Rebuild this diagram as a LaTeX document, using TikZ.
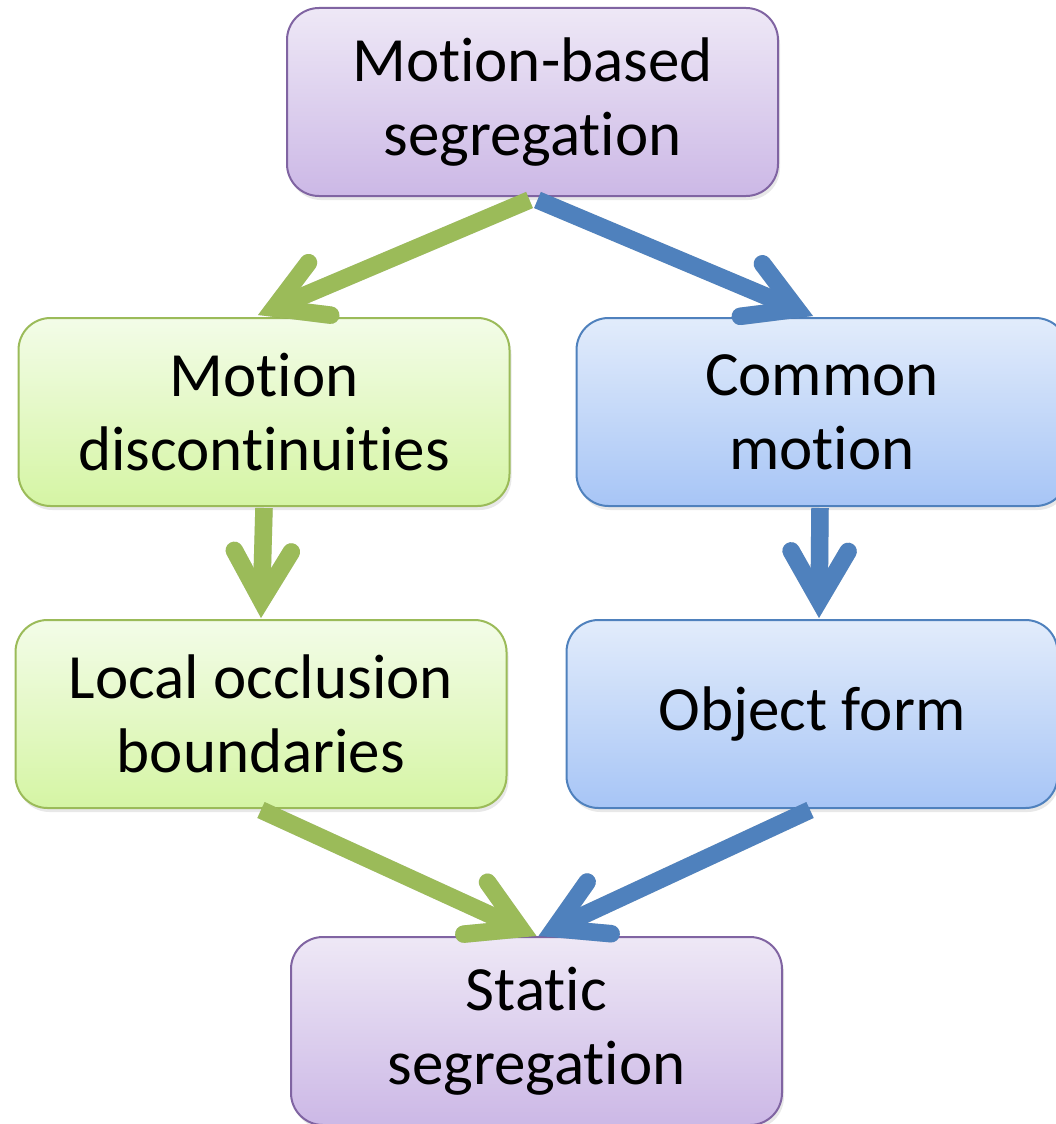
\documentclass[tikz,border=0pt]{standalone}
\usepackage{fontspec}
\setmainfont{Carlito}[Ligatures=NoCommon]
\usetikzlibrary{calc,shadows}

\definecolor{purpleline}{HTML}{8064A2}
\definecolor{purpletop}{HTML}{EEE8F6}
\definecolor{purplebot}{HTML}{CCB8E6}
\definecolor{greenline}{HTML}{9BBB59}
\definecolor{greentop}{HTML}{F3FCE8}
\definecolor{greenbot}{HTML}{D5F5A4}
\definecolor{blueline}{HTML}{4F81BD}
\definecolor{bluetop}{HTML}{E2ECFB}
\definecolor{bluebot}{HTML}{A7C5F6}

\tikzset{
  box/.style={rounded corners=32pt, line width=2pt,
    minimum width=491pt, minimum height=188pt, inner sep=0pt,
    align=center, font=\fontsize{63}{74}\selectfont,
    drop shadow={opacity=0.18, shadow xshift=2pt, shadow yshift=-4pt}},
  purplebox/.style={box, draw=purpleline, top color=purpletop, bottom color=purplebot},
  greenbox/.style={box, draw=greenline, top color=greentop, bottom color=greenbot},
  bluebox/.style={box, draw=blueline, top color=bluetop, bottom color=bluebot},
  shaft/.style={line width=17.5pt, line cap=butt},
  barbs/.style={line width=17.5pt, line cap=round, line join=miter},
}

% thick arrow with an open V head: colour, start, point of the head
\newcommand\fatarrow[3]{%
  \coordinate (fa-tip) at ($(#3)!17.5pt!(#2)$);
  \coordinate (fa-l) at ($(fa-tip)!57pt!30:(#2)$);
  \coordinate (fa-r) at ($(fa-tip)!57pt!-30:(#2)$);
  \begin{scope}[transparency group, opacity=0.14, shift={(2,4)}]
    \draw[shaft, black] (#2) -- (fa-tip);
    \draw[barbs, black] (fa-l) -- (fa-tip) -- (fa-r);
  \end{scope}
  \draw[shaft, #1] (#2) -- (fa-tip);
  \draw[barbs, #1] (fa-l) -- (fa-tip) -- (fa-r);
}

\begin{document}
\begin{tikzpicture}[x=1pt, y=-1pt]
  \useasboundingbox (0,0) rectangle (1055,1124);

  \node[purplebox] (top) at (532.5,102) {Motion-based\\segregation};
  \node[greenbox]  (md)  at (264,412)   {Motion\\discontinuities};
  \node[bluebox]   (cm)  at (822,412)   {Common\\motion};
  \node[greenbox]  (lo)  at (261,714)   {Local occlusion\\boundaries};
  \node[bluebox]   (of)  at (812,714)   {Object form};
  \node[purplebox] (ss)  at (536.5,1031) {Static\\segregation};

  \coordinate (g1s) at ($(top.south)+(-3,3)$);
  \coordinate (g1e) at ($(md.north)+(-6,-2)$);
  \coordinate (b1s) at ($(top.south)+(5,3)$);
  \coordinate (b1e) at ($(cm.north)+(-9,-1)$);
  \coordinate (g2s) at ($(md.south)+(0,1)$);
  \coordinate (g2e) at ($(lo.north)+(0,-1)$);
  \coordinate (b2s) at ($(cm.south)+(-2,1)$);
  \coordinate (b2e) at ($(of.north)+(7,-1)$);
  \coordinate (g3s) at ($(lo.south)+(0,1)$);
  \coordinate (g3e) at ($(ss.north)+(0,0)$);
  \coordinate (b3s) at ($(of.south)+(-2,1)$);
  \coordinate (b3e) at ($(ss.north)+(2,0)$);

  \fatarrow{greenline}{g1s}{g1e}
  \fatarrow{blueline}{b1s}{b1e}
  \fatarrow{greenline}{g2s}{g2e}
  \fatarrow{blueline}{b2s}{b2e}
  \fatarrow{greenline}{g3s}{g3e}
  \fatarrow{blueline}{b3s}{b3e}
\end{tikzpicture}
\end{document}
